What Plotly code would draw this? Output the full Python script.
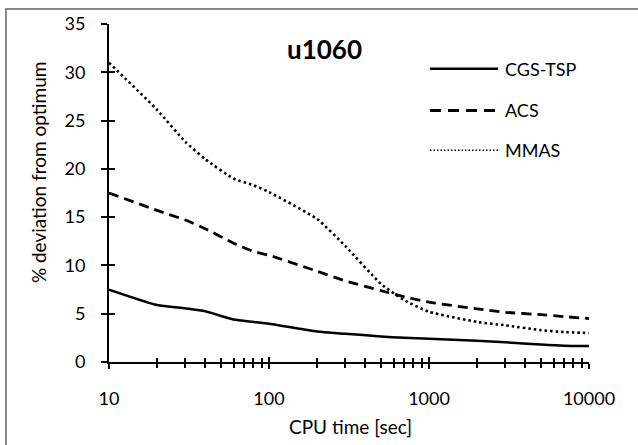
import plotly.graph_objects as go

# ---- data ----
cpu_time = [10, 20, 30, 40, 60, 80, 100, 200, 300, 500, 700, 1000, 2000, 3000, 5000, 7000, 10000]
cgs_tsp = [7.5, 5.9, 5.55, 5.25, 4.4, 4.15, 3.95, 3.15, 2.92, 2.65, 2.5, 2.4, 2.2, 2.05, 1.8, 1.68, 1.65]
acs = [17.5, 15.7, 14.7, 13.8, 12.3, 11.45, 11.05, 9.4, 8.4, 7.4, 6.75, 6.2, 5.5, 5.15, 4.9, 4.7, 4.5]
mmas = [31.0, 26.1, 22.8, 21.0, 19.0, 18.3, 17.6, 14.8, 12.0, 8.1, 6.4, 5.2, 4.15, 3.8, 3.3, 3.1, 3.0]
series_names = ["CGS-TSP", "ACS", "MMAS"]
x_tickvals = [10, 100, 1000, 10000]
x_ticktext = ["10", "100", "1000", "10000"]
x_minor = [20, 30, 40, 50, 60, 70, 80, 90, 200, 300, 400, 500, 600, 700, 800, 900,
           2000, 3000, 4000, 5000, 6000, 7000, 8000, 9000]
y_tickvals = [0, 5, 10, 15, 20, 25, 30, 35]
chart_title = "u1060"

FONT = "Lato"
W, H = 638, 445
L, R, T, B = 109, 49, 22, 83
PW, PH = W - L - R, H - T - B


def px(xp):
    return (xp - L) / PW


def py(yp):
    return (H - B - yp) / PH


styles = [
    dict(color="black", width=2.5, dash="solid"),
    dict(color="black", width=2.8, dash="10px,6px"),
    dict(color="black", width=2.6, dash="2.5px,3px"),
]
legend_styles = [
    dict(color="black", width=2.5, dash="solid"),
    dict(color="black", width=2.8, dash="11px,7px"),
    dict(color="black", width=1.5, dash="1.5px,2px"),
]

fig = go.Figure()
for name, vals, st in zip(series_names, [cgs_tsp, acs, mmas], styles):
    fig.add_trace(go.Scatter(x=cpu_time, y=vals, mode="lines", name=name,
                             line=dict(color=st["color"], width=st["width"], dash=st["dash"],
                                       shape="spline", smoothing=0.5),
                             showlegend=False, hoverinfo="skip"))

# invisible trace to activate the overlay axes (inside ticks)
fig.add_trace(go.Scatter(x=cpu_time, y=cgs_tsp, xaxis="x2", yaxis="y2", mode="lines",
                         line=dict(width=0), opacity=0, showlegend=False, hoverinfo="skip"))

tickfont = dict(family=FONT, size=18, color="black")

fig.update_layout(
    width=W, height=H,
    margin=dict(l=L, r=R, t=T, b=B),
    paper_bgcolor="white", plot_bgcolor="white",
    xaxis=dict(type="log", range=[1, 4], tickvals=x_tickvals, ticktext=x_ticktext,
               ticks="outside", ticklen=5, tickwidth=2, tickcolor="black",
               showline=True, linecolor="black", linewidth=2, showgrid=False, zeroline=False,
               tickfont=tickfont, ticklabelstandoff=14,
               minor=dict(tickvals=x_minor, ticks="outside", ticklen=4, tickwidth=1.5,
                          tickcolor="black", showgrid=False)),
    xaxis2=dict(type="log", range=[1, 4], overlaying="x", anchor="y2", side="bottom",
                tickvals=x_tickvals, ticks="inside", ticklen=5, tickwidth=2, tickcolor="black",
                showticklabels=False, showline=False, showgrid=False, zeroline=False,
                minor=dict(tickvals=x_minor, ticks="inside", ticklen=4, tickwidth=1.5,
                           tickcolor="black", showgrid=False)),
    yaxis=dict(range=[0, 35], tickvals=y_tickvals, ticks="outside", ticklen=6, tickwidth=2,
               tickcolor="black", showline=True, linecolor="black", linewidth=2,
               showgrid=False, zeroline=False, tickfont=tickfont, ticklabelstandoff=12),
    yaxis2=dict(range=[0, 35], overlaying="y", anchor="x2", side="left", tickvals=y_tickvals,
                ticks="inside", ticklen=6, tickwidth=2, tickcolor="black",
                showticklabels=False, showline=False, showgrid=False, zeroline=False),
    showlegend=False,
)

shapes = [
    # outer chart border
    dict(type="rect", xref="paper", yref="paper", x0=px(6), x1=px(W + 10), y0=py(H + 10), y1=py(7),
         line=dict(color="#8a8a8a", width=2), fillcolor="rgba(0,0,0,0)", layer="above"),
]
annotations = [
    dict(text="<b>" + chart_title + "</b>", xref="paper", yref="paper", x=px(324), y=py(47),
         showarrow=False, font=dict(family=FONT, size=26, color="black"), xanchor="center", yanchor="middle"),
    dict(text="CPU time [sec]", xref="paper", yref="paper", x=px(350), y=py(427),
         showarrow=False, font=dict(family=FONT, size=19, color="black"), xanchor="center", yanchor="middle"),
    dict(text="% deviation from optimum", xref="paper", yref="paper", x=px(38), y=py(172),
         showarrow=False, textangle=-90, font=dict(family=FONT, size=19, color="black"),
         xanchor="center", yanchor="middle"),
]
legend_rows = [67, 109, 149]
for name, st, yr in zip(series_names, legend_styles, legend_rows):
    shapes.append(dict(type="line", xref="paper", yref="paper", x0=px(430), x1=px(498), y0=py(yr), y1=py(yr),
                       line=dict(color=st["color"], width=st["width"], dash=st["dash"])))
    annotations.append(dict(text=name, xref="paper", yref="paper", x=px(503), y=py(yr), showarrow=False,
                            font=dict(family=FONT, size=18, color="black"), xanchor="left", yanchor="middle"))

fig.update_layout(shapes=shapes, annotations=annotations)
fig.write_html(
    "out.html",
    config={"displayModeBar": False},
    post_script="document.body.style.margin='0';document.body.style.padding='0';"
                "document.documentElement.style.overflow='hidden';",
)
